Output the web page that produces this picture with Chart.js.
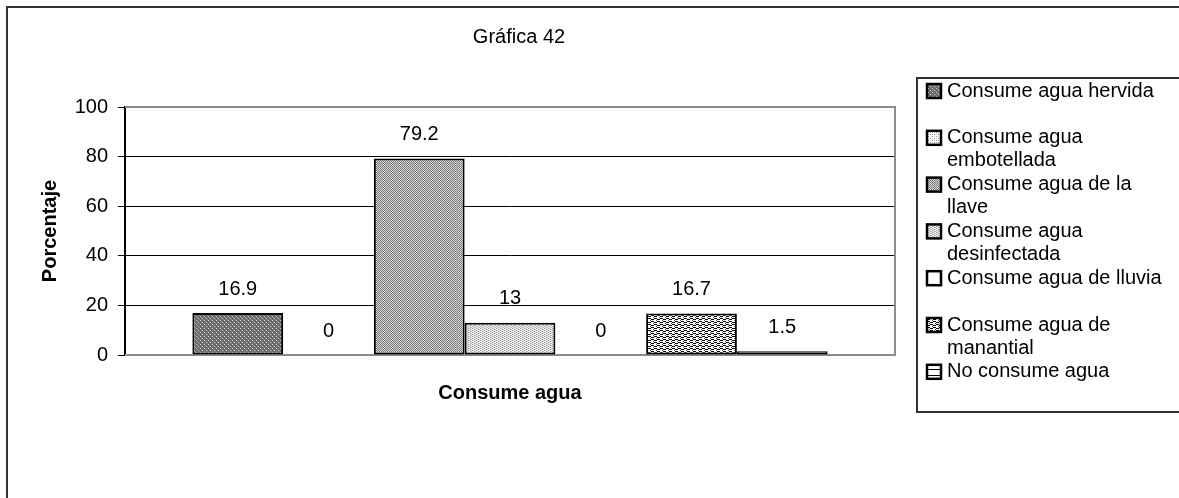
<!DOCTYPE html>
<html><head><meta charset="utf-8">
<script src="https://cdn.jsdelivr.net/npm/chart.js@4/dist/chart.umd.min.js"></script>
<style>html,body{margin:0;padding:0;background:#fff}#wrap{width:1179px;height:498px;position:relative}</style>
</head><body><div id="wrap"><canvas id="c" width="1179" height="498"></canvas></div>
<script>
const chartTitle = 'Gráfica 42';
const categories = ['Consume agua'];
const seriesNames = ['Consume agua hervida','Consume agua embotellada','Consume agua de la llave','Consume agua desinfectada','Consume agua de lluvia','Consume agua de manantial','No consume agua'];
const seriesValues = [16.9, 0, 79.2, 13, 0, 16.7, 1.5];
const yTicks = [0, 20, 40, 60, 80, 100];
const yTitle = 'Porcentaje';
const xTitle = 'Consume agua';

const FONT = '"Liberation Sans", Arial, sans-serif';
const patternKinds = ['darkdots','lightdots','checker','lightgray','white','brick','hline'];

function makePattern(kind) {
  const t = document.createElement('canvas');
  const g = t.getContext('2d');
  const px = (x, y, c) => { g.fillStyle = c; g.fillRect(x, y, 1, 1); };
  if (kind === 'darkdots') {
    t.width = 4; t.height = 4;
    g.fillStyle = '#6a6a6a'; g.fillRect(0,0,4,4);
    px(0,0,'#d0d0d0'); px(2,2,'#d0d0d0'); px(1,1,'#8a8a8a'); px(3,3,'#8a8a8a');
  } else if (kind === 'lightdots') {
    t.width = 4; t.height = 4;
    g.fillStyle = '#ffffff'; g.fillRect(0,0,4,4);
    px(0,0,'#909090'); px(2,2,'#909090'); px(2,0,'#c8c8c8'); px(0,2,'#c8c8c8');
  } else if (kind === 'checker') {
    t.width = 2; t.height = 2;
    g.fillStyle = '#d8d8d8'; g.fillRect(0,0,2,2);
    px(0,0,'#7a7a7a'); px(1,1,'#7a7a7a');
  } else if (kind === 'lightgray') {
    t.width = 4; t.height = 2;
    g.fillStyle = '#f0f0f0'; g.fillRect(0,0,4,2);
    px(0,0,'#a0a0a0'); px(2,1,'#a0a0a0'); px(1,0,'#c8c8c8'); px(3,1,'#c8c8c8');
  } else if (kind === 'white') {
    t.width = 2; t.height = 2;
    g.fillStyle = '#ffffff'; g.fillRect(0,0,2,2);
  } else if (kind === 'brick') {
    t.width = 6; t.height = 6;
    g.fillStyle = '#ffffff'; g.fillRect(0,0,6,6);
    g.fillStyle = '#000';
    g.fillRect(0,0,3,1); g.fillRect(3,1,3,1);
    g.fillRect(3,3,3,1); g.fillRect(0,4,3,1);
    px(2,2,'#444'); px(5,5,'#444');
  } else if (kind === 'hline') {
    t.width = 4; t.height = 6;
    g.fillStyle = '#ffffff'; g.fillRect(0,0,4,6);
    g.fillStyle = '#000'; g.fillRect(0,3,4,1);
  }
  return document.getElementById('c').getContext('2d').createPattern(t, 'repeat');
}

const patterns = patternKinds.map(makePattern);

const datasets = seriesNames.map((name, i) => ({
  label: name,
  data: [seriesValues[i]],
  backgroundColor: patterns[i],
  borderColor: '#000',
  borderWidth: (ctx) => {
    const v = ctx.raw;
    return (typeof v === 'number' && v < 3) ? 1.5 : 2;
  },
  borderSkipped: false,
  barPercentage: 1,
  categoryPercentage: 0.825
}));

function wrapText(ctx, text, maxW) {
  const words = text.split(' ');
  const lines = [];
  let cur = '';
  for (const w of words) {
    const test = cur ? cur + ' ' + w : w;
    if (ctx.measureText(test).width > maxW && cur) { lines.push(cur); cur = w; }
    else cur = test;
  }
  if (cur) lines.push(cur);
  return lines;
}

const decorPlugin = {
  id: 'decor',
  beforeDatasetsDraw(chart) {
    const ctx = chart.ctx, a = chart.chartArea;
    ctx.save();
    ctx.strokeStyle = '#8c8c8c';
    ctx.lineWidth = 2;
    ctx.beginPath();
    ctx.moveTo(a.left, a.top); ctx.lineTo(a.right, a.top);
    ctx.lineTo(a.right, a.bottom); ctx.lineTo(a.left, a.bottom);
    ctx.stroke();
    ctx.restore();
  },
  afterDraw(chart) {
    const ctx = chart.ctx, a = chart.chartArea;
    ctx.save();
    ctx.strokeStyle = '#333';
    ctx.lineWidth = 2;
    ctx.strokeRect(7, 7, 1400, 700);
    ctx.fillStyle = '#000';
    ctx.textAlign = 'center';
    ctx.textBaseline = 'middle';
    ctx.font = '20px ' + FONT;
    ctx.fillText(chartTitle, 519, 37);
    chart.data.datasets.forEach((ds, i) => {
      const meta = chart.getDatasetMeta(i);
      meta.data.forEach((bar, j) => {
        ctx.fillText(String(ds.data[j]), bar.x, bar.y - 24);
      });
    });
    ctx.font = 'bold 20px ' + FONT;
    ctx.fillText(xTitle, (a.left + a.right) / 2, 393);
    ctx.save();
    ctx.translate(50, (a.top + a.bottom) / 2);
    ctx.rotate(-Math.PI / 2);
    ctx.fillText(yTitle, 0, 0);
    ctx.restore();
    const lx = 917, ly = 78, lbottom = 412;
    ctx.strokeStyle = '#333';
    ctx.lineWidth = 2;
    ctx.strokeRect(lx, ly, 600, lbottom - ly);
    ctx.font = '20px ' + FONT;
    ctx.textAlign = 'left';
    chart.data.datasets.forEach((ds, i) => {
      const y0 = 91 + i * 46.8;
      const lines = wrapText(ctx, ds.label, 228);
      ctx.fillStyle = ds.backgroundColor;
      ctx.fillRect(927, y0 - 7, 14, 14);
      ctx.strokeStyle = '#000';
      ctx.lineWidth = 2.5;
      ctx.strokeRect(927, y0 - 7, 14, 14);
      ctx.fillStyle = '#000';
      lines.forEach((ln, k) => ctx.fillText(ln, 947, y0 + k * 23));
    });
    ctx.restore();
  }
};

new Chart(document.getElementById('c'), {
  type: 'bar',
  data: { labels: categories, datasets },
  options: {
    responsive: false,
    animation: false,
    devicePixelRatio: 1,
    layout: { padding: { left: 0, top: 107, right: 284, bottom: 0 } },
    plugins: { legend: { display: false }, title: { display: false }, tooltip: { enabled: false } },
    scales: {
      x: {
        afterFit(s) { s.height = 143; },
        ticks: { display: false },
        grid: { display: false },
        border: { display: false }
      },
      y: {
        min: 0, max: 100,
        afterFit(s) { s.width = 125; },
        afterBuildTicks(s) { s.ticks = yTicks.map(v => ({ value: v })); },
        ticks: { color: '#000', font: { family: FONT, size: 20 }, padding: 10 },
        grid: { color: '#000', lineWidth: 1, tickLength: 7, drawTicks: true },
        border: { color: '#000', width: 2 }
      }
    }
  },
  plugins: [decorPlugin]
});
</script>
</body></html>
